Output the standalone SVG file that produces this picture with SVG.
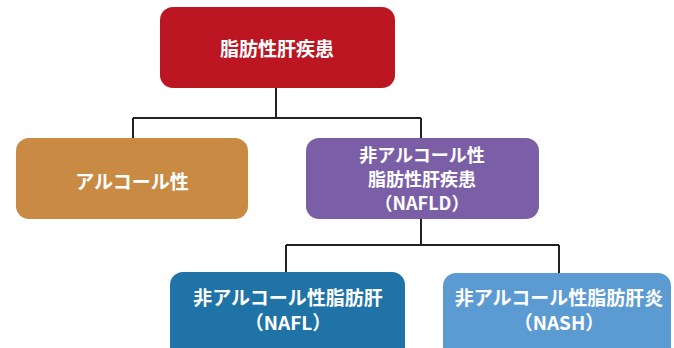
<svg xmlns="http://www.w3.org/2000/svg" width="674" height="348" viewBox="0 0 674 348">
<style>
.box{stroke:none}
.t{font-family:"Noto Sans CJK JP","Noto Sans",sans-serif;font-weight:700;font-size:19px;fill:#fff;text-anchor:middle}
.s{font-size:18px}
.c{fill:none;stroke:#222;stroke-width:2}
</style>
<rect width="674" height="348" fill="#fff"/>
<g id="connectors">
<path class="c" d="M276 88V118M133 118H421M133 118V138M421 118V138"/>
<path class="c" d="M421 219V245M286 245H559M286 245V272M559 245V273"/>
</g>
<g id="n1"><rect class="box" x="160" y="7" width="235" height="81" rx="13" fill="#bb1622"/><text class="t" x="277" y="56">脂肪性肝疾患</text></g>
<g id="n2"><rect class="box" x="16" y="138" width="232" height="81" rx="13" fill="#c98a44"/><text class="t" x="132" y="189">アルコール性</text></g>
<g id="n3"><rect class="box" x="306" y="138" width="233" height="81" rx="13" fill="#7b5fa6"/><text class="t s" x="422" y="162">非アルコール性</text><text class="t s" x="422" y="186">脂肪性肝疾患</text><text class="t s" x="422" y="210">（NAFLD）</text></g>
<g id="n4"><rect class="box" x="170" y="272" width="235" height="90" rx="13" fill="#1f73a6"/><text class="t" x="288" y="305">非アルコール性脂肪肝</text><text class="t" x="288" y="330">（NAFL）</text></g>
<g id="n5"><rect class="box" x="443" y="273" width="228" height="90" rx="13" fill="#5c9bd2"/><text class="t" x="559" y="305">非アルコール性脂肪肝炎</text><text class="t" x="559" y="330">（NASH）</text></g>
</svg>
